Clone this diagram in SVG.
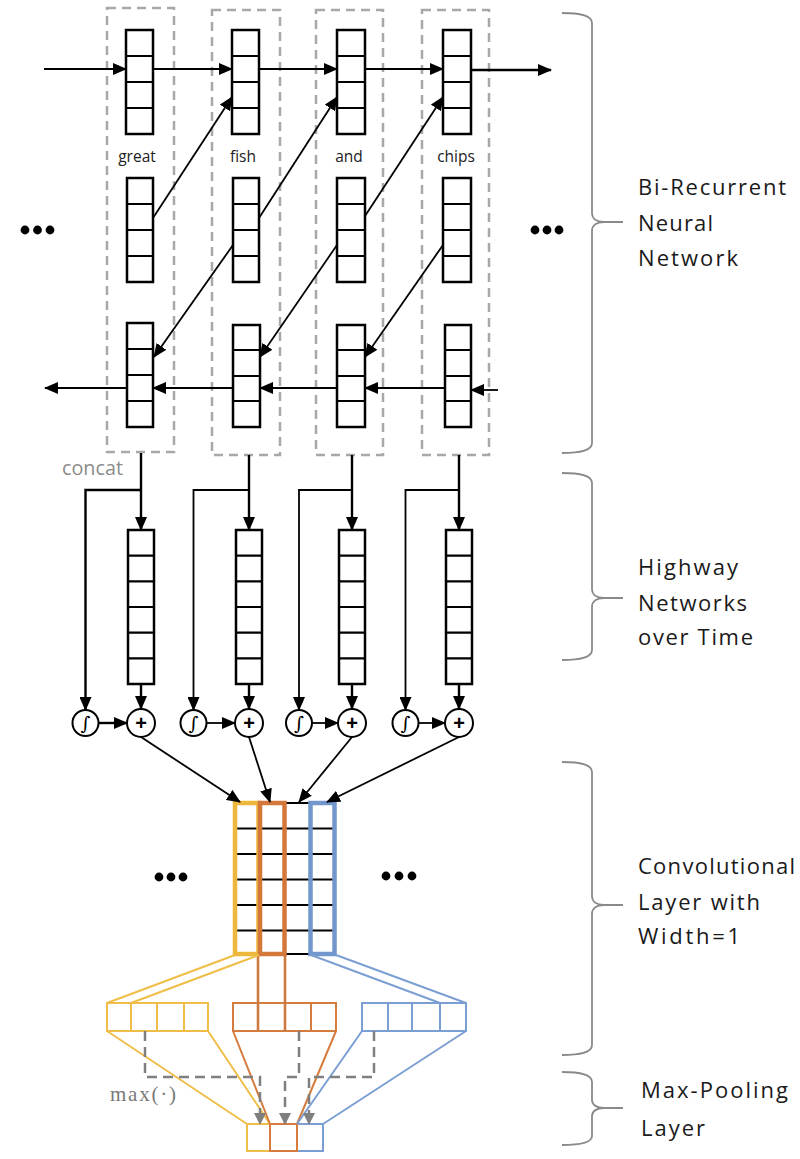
<svg xmlns="http://www.w3.org/2000/svg" width="800" height="1159" viewBox="0 0 800 1159">
<defs>
<marker id="ah" markerUnits="userSpaceOnUse" markerWidth="14" markerHeight="12" refX="13" refY="6" orient="auto"><path d="M0,0 L14,6 L0,12 z" fill="#000"/></marker>
<marker id="ahg" markerUnits="userSpaceOnUse" markerWidth="12" markerHeight="12" refX="11" refY="6" orient="auto"><path d="M0,0 L12,6 L0,12 z" fill="#7f7f7f"/></marker>
<style>
.cell{fill:#fff;stroke:#000;stroke-width:2.5}
.sep{stroke:#000;stroke-width:2.2}
.dbox{fill:none;stroke:#a8a8a8;stroke-width:2.5;stroke-dasharray:9 6}
.conn{fill:none;stroke:#000;stroke-width:1.8}
.thick{fill:none;stroke:#000;stroke-width:2.4}
.word{font-family:"Open Sans","Liberation Sans",sans-serif;font-size:15.5px;fill:#222;text-anchor:middle}
.lbl{font-family:"Open Sans","Liberation Sans",sans-serif;font-size:22px;fill:#1a1a1a}
.brace{fill:none;stroke:#8a8a8a;stroke-width:1.8}
.circ{fill:#fff;stroke:#000;stroke-width:2}
.dot{fill:#000}
.gd{fill:none;stroke:#7f7f7f;stroke-width:2.5;stroke-dasharray:10 6}
.int{font-family:"DejaVu Serif","Liberation Serif",serif;font-size:19px;text-anchor:middle}
.plus{font-family:"Liberation Sans",sans-serif;font-weight:bold;font-size:20px;text-anchor:middle}
.y{stroke:#F0BE48}
.o{stroke:#D57C3E}
.b{stroke:#7C9FD3}
</style>
</defs>

<!-- dashed word columns -->
<g id="columns">
<rect class="dbox" x="107" y="8" width="67" height="444"/>
<rect class="dbox" x="212" y="10" width="68" height="445"/>
<rect class="dbox" x="316" y="10" width="67" height="445"/>
<rect class="dbox" x="422" y="10" width="67" height="445"/>
</g>

<!-- forward RNN states -->
<g id="fwd1"><rect class="cell" x="126" y="30" width="27" height="104"/><path class="sep" d="M126,56H153M126,82H153M126,108H153"/></g>
<g id="fwd2"><rect class="cell" x="232" y="30" width="27" height="104"/><path class="sep" d="M232,56H259M232,82H259M232,108H259"/></g>
<g id="fwd3"><rect class="cell" x="337" y="30" width="28" height="104"/><path class="sep" d="M337,56H365M337,82H365M337,108H365"/></g>
<g id="fwd4"><rect class="cell" x="443" y="30" width="28" height="104"/><path class="sep" d="M443,56H471M443,82H471M443,108H471"/></g>

<!-- words -->
<g id="words">
<text class="word" x="137" y="162">great</text>
<text class="word" x="243" y="162">fish</text>
<text class="word" x="349" y="162">and</text>
<text class="word" x="456" y="162">chips</text>
</g>

<!-- embeddings -->
<g id="emb1"><rect class="cell" x="127" y="178" width="26" height="104"/><path class="sep" d="M127,204H153M127,230H153M127,256H153"/></g>
<g id="emb2"><rect class="cell" x="233" y="178" width="26" height="104"/><path class="sep" d="M233,204H259M233,230H259M233,256H259"/></g>
<g id="emb3"><rect class="cell" x="337" y="178" width="28" height="104"/><path class="sep" d="M337,204H365M337,230H365M337,256H365"/></g>
<g id="emb4"><rect class="cell" x="443" y="178" width="28" height="104"/><path class="sep" d="M443,204H471M443,230H471M443,256H471"/></g>

<!-- backward RNN states -->
<g id="bwd1"><rect class="cell" x="127" y="323" width="26" height="104"/><path class="sep" d="M127,349H153M127,375H153M127,401H153"/></g>
<g id="bwd2"><rect class="cell" x="233" y="325" width="27" height="102"/><path class="sep" d="M233,350H260M233,376H260M233,401H260"/></g>
<g id="bwd3"><rect class="cell" x="337" y="325" width="28" height="102"/><path class="sep" d="M337,350H365M337,376H365M337,401H365"/></g>
<g id="bwd4"><rect class="cell" x="445" y="325" width="26" height="102"/><path class="sep" d="M445,350H471M445,376H471M445,401H471"/></g>

<!-- highway blocks -->
<g id="hw1"><rect class="cell" x="128" y="530" width="26" height="154"/><path class="sep" d="M128,555.7H154M128,581.3H154M128,607H154M128,632.7H154M128,658.3H154"/></g>
<g id="hw2"><rect class="cell" x="236" y="530" width="26" height="154"/><path class="sep" d="M236,555.7H262M236,581.3H262M236,607H262M236,632.7H262M236,658.3H262"/></g>
<g id="hw3"><rect class="cell" x="339" y="530" width="26" height="154"/><path class="sep" d="M339,555.7H365M339,581.3H365M339,607H365M339,632.7H365M339,658.3H365"/></g>
<g id="hw4"><rect class="cell" x="446" y="530" width="26" height="154"/><path class="sep" d="M446,555.7H472M446,581.3H472M446,607H472M446,632.7H472M446,658.3H472"/></g>

<!-- gate / sum circles -->
<g id="gate1"><circle class="circ" cx="85.5" cy="723" r="13"/><text class="int" x="85.5" y="730">∫</text></g>
<g id="sum1"><circle class="circ" cx="141" cy="723" r="14"/><text class="plus" x="141" y="730">+</text></g>
<g id="gate2"><circle class="circ" cx="193.5" cy="723" r="13"/><text class="int" x="193.5" y="730">∫</text></g>
<g id="sum2"><circle class="circ" cx="249" cy="723" r="14"/><text class="plus" x="249" y="730">+</text></g>
<g id="gate3"><circle class="circ" cx="299" cy="723" r="13"/><text class="int" x="299" y="730">∫</text></g>
<g id="sum3"><circle class="circ" cx="352" cy="723" r="14"/><text class="plus" x="352" y="730">+</text></g>
<g id="gate4"><circle class="circ" cx="405.5" cy="723" r="13"/><text class="int" x="405.5" y="730">∫</text></g>
<g id="sum4"><circle class="circ" cx="459" cy="723" r="14"/><text class="plus" x="459" y="730">+</text></g>

<!-- convolution grid -->
<g id="conv">
<path class="sep" d="M235,803H335M235,828.5H335M235,854H335M235,879.5H335M235,905H335M235,930.5H335M235,954H335"/>
<rect x="235" y="803" width="23.5" height="151" fill="none" stroke="#EDB73C" stroke-width="4.5"/>
<rect x="260" y="803" width="24.5" height="151" fill="none" stroke="#D4773A" stroke-width="4.5"/>
<rect x="310.5" y="803" width="24" height="151" fill="none" stroke="#7396CC" stroke-width="4.5"/>
</g>

<!-- feature rows -->
<g id="row-yellow" fill="none" stroke-width="2"><rect class="y" x="107" y="1003" width="101" height="28"/><path class="y" d="M131,1003V1031M157,1003V1031M184,1003V1031"/></g>
<g id="row-orange" fill="none" stroke-width="2"><rect class="o" x="233" y="1003" width="103" height="28"/><path class="o" d="M311,1003V1031"/><path d="M258,955V1031M285,955V1031" stroke="#CD7A42" stroke-width="2.6"/></g>
<g id="row-blue" fill="none" stroke-width="2"><rect class="b" x="362" y="1003" width="104" height="28"/><path class="b" d="M388,1003V1031M412,1003V1031M440,1003V1031"/></g>

<!-- pooled output -->
<g id="pooled" fill="none" stroke-width="2">
<rect class="y" x="247" y="1124" width="23" height="27"/>
<rect class="b" x="297" y="1124" width="26" height="27"/>
<rect class="o" x="270" y="1124" width="27" height="27"/>
</g>

<!-- ellipses -->
<g id="ellipses">
<circle class="dot" cx="25" cy="230" r="4.4"/><circle class="dot" cx="37.5" cy="230" r="4.4"/><circle class="dot" cx="50" cy="230" r="4.4"/>
<circle class="dot" cx="535" cy="230" r="4.4"/><circle class="dot" cx="547" cy="230" r="4.4"/><circle class="dot" cx="559" cy="230" r="4.4"/>
<circle class="dot" cx="159" cy="877" r="4.4"/><circle class="dot" cx="171" cy="877" r="4.4"/><circle class="dot" cx="183" cy="877" r="4.4"/>
<circle class="dot" cx="386" cy="876" r="4.4"/><circle class="dot" cx="399" cy="876" r="4.4"/><circle class="dot" cx="412" cy="876" r="4.4"/>
</g>

<!-- connectors -->
<g id="connectors">
<path class="conn" d="M44,69H126" marker-end="url(#ah)"/>
<path class="conn" d="M153,69H232" marker-end="url(#ah)"/>
<path class="conn" d="M259,69H337" marker-end="url(#ah)"/>
<path class="conn" d="M365,69H443" marker-end="url(#ah)"/>
<path class="thick" d="M471,70H551" marker-end="url(#ah)"/>
<path class="conn" d="M153,218L232,97" marker-end="url(#ah)"/>
<path class="conn" d="M259,218L337,97" marker-end="url(#ah)"/>
<path class="conn" d="M365,216L443,97" marker-end="url(#ah)"/>
<path class="conn" d="M233,245L154,357" marker-end="url(#ah)"/>
<path class="conn" d="M337,245L260,357" marker-end="url(#ah)"/>
<path class="conn" d="M443,245L365,357" marker-end="url(#ah)"/>
<path class="conn" d="M498,390H471" marker-end="url(#ah)"/>
<path class="conn" d="M445,388H365" marker-end="url(#ah)"/>
<path class="conn" d="M337,388H260" marker-end="url(#ah)"/>
<path class="conn" d="M233,388H153" marker-end="url(#ah)"/>
<path class="conn" d="M127,388H45" marker-end="url(#ah)"/>

<path class="thick" d="M141,453V530" marker-end="url(#ah)"/>
<path class="thick" d="M249,455V530" marker-end="url(#ah)"/>
<path class="thick" d="M352,455V530" marker-end="url(#ah)"/>
<path class="thick" d="M459,455V530" marker-end="url(#ah)"/>
<path class="thick" d="M141,490H85.5V710" marker-end="url(#ah)"/>
<path class="conn" d="M249,490H193.5V710" marker-end="url(#ah)"/>
<path class="conn" d="M352,490H299V710" marker-end="url(#ah)"/>
<path class="conn" d="M459,490H405.5V710" marker-end="url(#ah)"/>
<path class="thick" d="M141,684V709" marker-end="url(#ah)"/>
<path class="thick" d="M249,684V709" marker-end="url(#ah)"/>
<path class="thick" d="M352,684V709" marker-end="url(#ah)"/>
<path class="thick" d="M459,684V709" marker-end="url(#ah)"/>
<path class="thick" d="M98.5,723H127" marker-end="url(#ah)"/>
<path class="conn" d="M206.5,723H235" marker-end="url(#ah)"/>
<path class="conn" d="M312,723H338" marker-end="url(#ah)"/>
<path class="conn" d="M418.5,723H445" marker-end="url(#ah)"/>
<path class="conn" d="M141,737L240,802" marker-end="url(#ah)"/>
<path class="conn" d="M249,737L270,802" marker-end="url(#ah)"/>
<path class="conn" d="M352,737L299,802" marker-end="url(#ah)"/>
<path class="conn" d="M459,737L327,802" marker-end="url(#ah)"/>

<g fill="none" stroke-width="2">
<path class="y" d="M235,955L107,1003M259,955L131,1003"/>
<path class="b" d="M311,955L440,1003M336,955L466,1003"/>
<path class="y" d="M107,1031L247,1124M208,1031L270,1124"/>
<path class="o" d="M233,1031L270,1124M336,1031L297,1124"/>
<path class="b" d="M362,1031L297,1124M466,1031L323,1124"/>
</g>
<path class="gd" d="M145,1031V1077H260V1124" marker-end="url(#ahg)"/>
<path class="gd" d="M299,1031V1077H285V1124" marker-end="url(#ahg)"/>
<path class="gd" d="M374,1031V1077H309V1124" marker-end="url(#ahg)"/>
</g>

<!-- annotations -->
<g id="annotations">
<text x="62" y="475" font-family="Open Sans,Liberation Sans,sans-serif" font-size="20" fill="#8c8c8c" textLength="61" lengthAdjust="spacingAndGlyphs">concat</text>
<text x="110" y="1101" font-family="Liberation Serif,serif" font-size="21" fill="#7a7a7a" textLength="66" lengthAdjust="spacing">max(·)</text>
</g>

<!-- braces and layer labels -->
<g id="layer-birnn">
<path class="brace" d="M562,13 C580,13 592,15 592,23 L592,213 C592,219 597,222 604,222 L623,222 M604,222 C597,222 592,225 592,231 L592,443 C592,451 580,453 562,453"/>
<text class="lbl" x="638" y="195" textLength="148" lengthAdjust="spacing">Bi-Recurrent</text>
<text class="lbl" x="638" y="231" textLength="75" lengthAdjust="spacing">Neural</text>
<text class="lbl" x="638" y="266" textLength="100" lengthAdjust="spacing">Network</text>
</g>
<g id="layer-highway">
<path class="brace" d="M562,473 C580,473 592,475 592,483 L592,589 C592,595 597,598 604,598 L623,598 M604,598 C597,598 592,601 592,607 L592,650 C592,658 580,660 562,660"/>
<text class="lbl" x="638" y="575" textLength="100" lengthAdjust="spacing">Highway</text>
<text class="lbl" x="638" y="611" textLength="109" lengthAdjust="spacing">Networks</text>
<text class="lbl" x="638" y="645" textLength="115" lengthAdjust="spacing">over Time</text>
</g>
<g id="layer-conv">
<path class="brace" d="M562,762 C580,762 592,764 592,772 L592,896 C592,902 597,905 604,905 L623,905 M604,905 C597,905 592,908 592,914 L592,1045 C592,1053 580,1055 562,1055"/>
<text class="lbl" x="638" y="874" textLength="157" lengthAdjust="spacing">Convolutional</text>
<text class="lbl" x="638" y="910" textLength="122" lengthAdjust="spacing">Layer with</text>
<text class="lbl" x="638" y="944" textLength="102" lengthAdjust="spacing">Width=1</text>
</g>
<g id="layer-pool">
<path class="brace" d="M562,1072 C580,1072 592,1074 592,1082 L592,1100 C592,1105 597,1108 604,1108 L623,1108 M604,1108 C597,1108 592,1111 592,1116 L592,1136 C592,1143 580,1145 562,1145"/>
<text class="lbl" x="641" y="1098" textLength="147" lengthAdjust="spacing">Max-Pooling</text>
<text class="lbl" x="641" y="1136" textLength="64" lengthAdjust="spacing">Layer</text>
</g>
</svg>
